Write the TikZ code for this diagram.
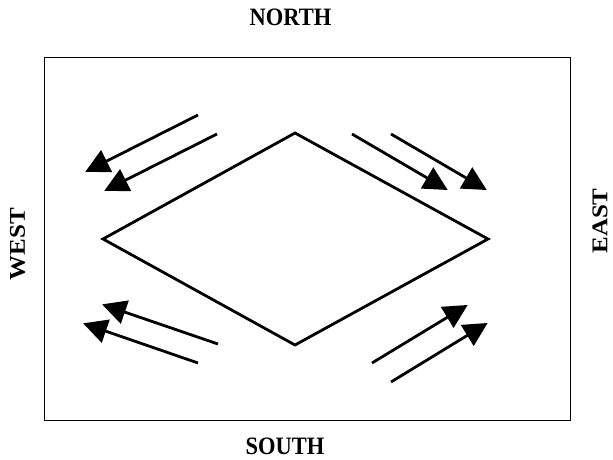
\documentclass[tikz,border=0pt]{standalone}
\usepackage{fontspec}
\setmainfont{Liberation Serif}
\usetikzlibrary{arrows.meta}
\begin{document}
\begin{tikzpicture}[x=1pt,y=-1pt,
  lbl/.style={font=\fontsize{25}{25}\selectfont\bfseries, inner sep=0pt, xscale=0.9},
  dir/.style={line width=2.8pt, -{Triangle[length=24pt,width=24pt]}, shorten >=-2pt},
  frame/.style={draw, line width=0.8pt},
  rhomb/.style={draw, line width=2.8pt, line join=miter}]
\useasboundingbox (0,0) rectangle (613,460);
\node[frame, minimum width=526pt, minimum height=363pt, inner sep=0pt] (box) at (307,238.5) {};
\coordinate (L) at (103,239);
\coordinate (T) at (295,133);
\coordinate (R) at (488,239);
\coordinate (B) at (295,345);
\draw[rhomb] (L) -- (T) -- (R) -- (B) -- cycle;
\node[lbl] (north) at (290.5,17.5) {NORTH};
\node[lbl] (south) at (285,446) {SOUTH};
\node[lbl, rotate=90] (west) at (17.5,244) {WEST};
\node[lbl, rotate=90] (east) at (600,221) {EAST};
% NW
\coordinate (a1s) at (198,115); \coordinate (a1e) at (87,171);
\coordinate (a2s) at (217,134); \coordinate (a2e) at (106,190);
% NE
\coordinate (b1s) at (352,134); \coordinate (b1e) at (446,189);
\coordinate (b2s) at (391,134); \coordinate (b2e) at (485,189);
% SW
\coordinate (c1s) at (218,344); \coordinate (c1e) at (104,305);
\coordinate (c2s) at (198,363); \coordinate (c2e) at (85,324);
% SE
\coordinate (d1s) at (372,363); \coordinate (d1e) at (466,306);
\coordinate (d2s) at (391,382); \coordinate (d2e) at (486,324);
\foreach \p in {a1,a2,b1,b2,c1,c2,d1,d2}{
  \draw[dir] (\p s) -- (\p e);
}
\end{tikzpicture}
\end{document}
